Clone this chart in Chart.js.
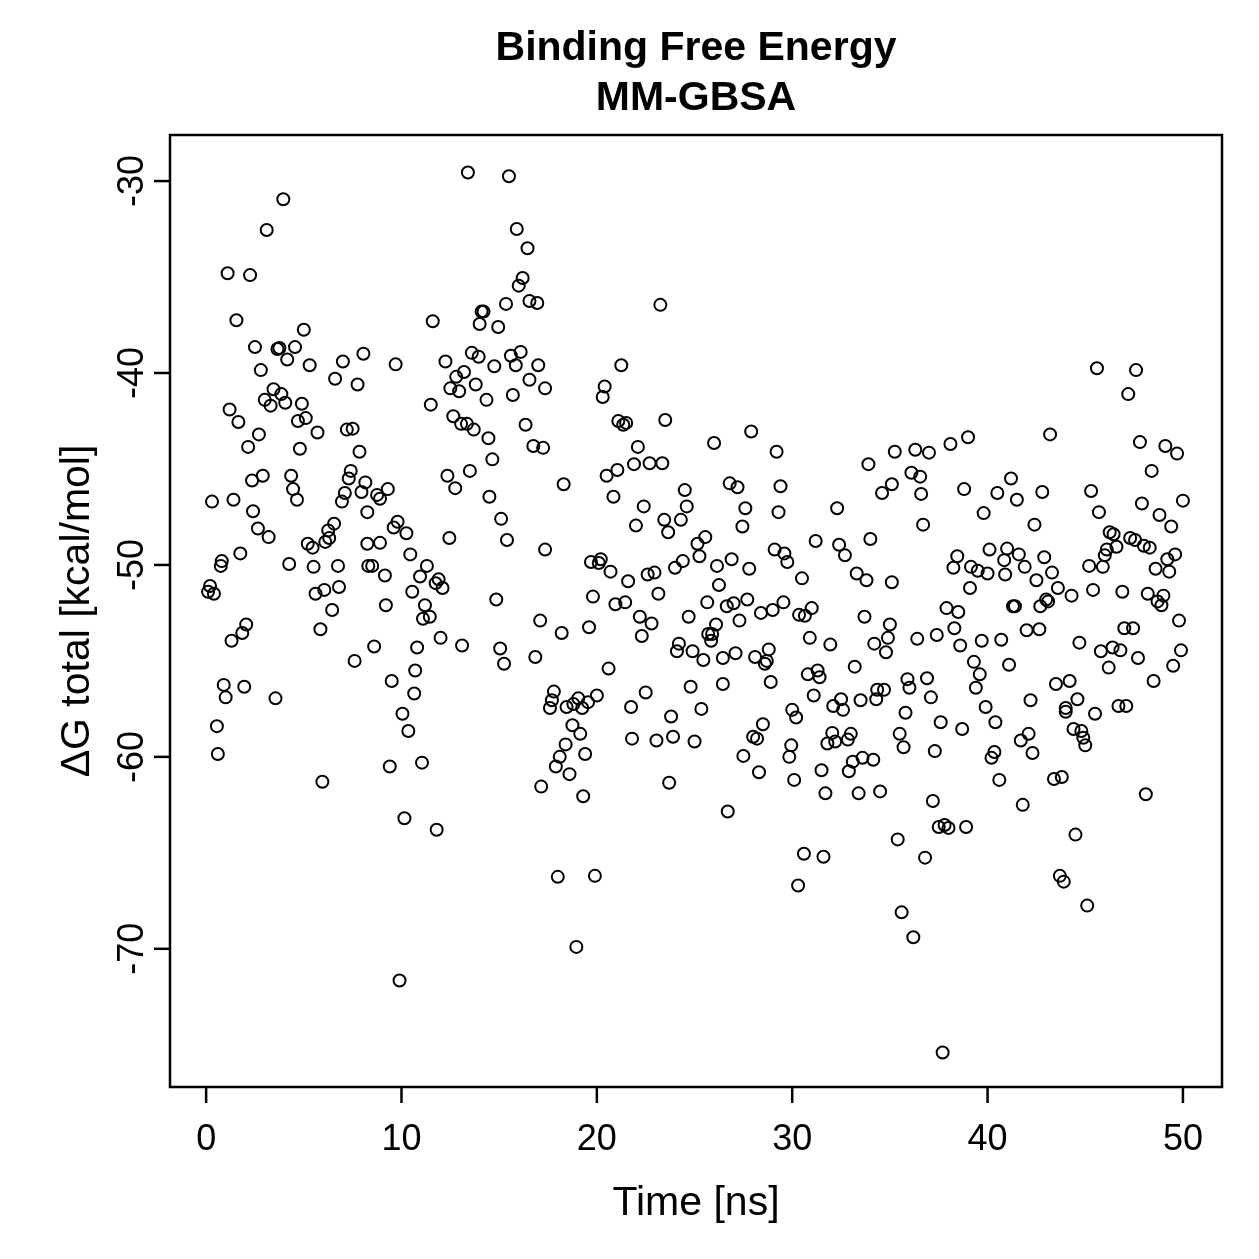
<!DOCTYPE html>
<html>
<head>
<meta charset="utf-8">
<script src="https://cdn.jsdelivr.net/npm/chart.js@4.4.1/dist/chart.umd.min.js"></script>
<style>
  body { margin: 0; background: #ffffff; }
  #chartDiv { width: 1259px; height: 1259px; }
</style>
</head>
<body>
<div id="chartDiv"><canvas id="mmgbsaChart" width="1259" height="1259"></canvas></div>
<script>

// ---------- DATA
var chartTitle = ['Binding Free Energy', 'MM-GBSA'];
var xTitle = 'Time [ns]';
var yTitle = '\u0394G total [kcal/mol]';
var xTicks = [0, 10, 20, 30, 40, 50];
var yTicks = [-30, -40, -50, -60, -70];

// time [ns]
var timeNs = [
  0.2, 0.1, 0.4, 0.3, 0.8, 0.75, 0.55, 0.6, 0.9, 1.0, 1.1, 1.2, 1.4, 1.3, 1.55, 1.65, 1.75, 1.85, 2.05, 1.95,
  2.15, 2.25, 2.35, 2.4, 2.5, 2.65, 2.7, 2.8, 2.9, 3.0, 3.1, 3.2, 3.3, 3.45, 3.55, 3.65, 3.75, 3.95, 3.85, 4.05,
  4.15, 4.25, 4.35, 4.45, 4.55, 4.65, 4.7, 4.8, 4.9, 5.0, 5.1, 5.2, 5.3, 5.45, 5.5, 5.6, 5.7, 5.85, 5.95, 6.05,
  6.1, 6.25, 6.3, 6.45, 6.55, 6.6, 6.75, 6.8, 6.95, 7.0, 7.1, 7.2, 7.3, 7.4, 7.5, 7.6, 7.75, 7.85, 7.95, 8.05,
  8.15, 8.25, 8.25, 8.3,

  9.7, 13.4, 15.5, 15.9, 16.45, 16.2, 16.0, 15.35, 16.55, 16.95, 14.1, 14.2, 14.0, 14.95, 11.6, 12.25, 13.6, 13.95, 14.75, 15.6,
  16.1, 15.85, 17.0, 13.2, 12.8, 12.5, 12.95, 13.8, 14.35, 16.55, 17.35, 15.7, 11.5, 12.65, 13.05, 13.35, 13.7, 14.45, 16.35, 16.75,
  17.25, 14.65, 13.5, 12.35, 12.75, 14.5, 15.1, 15.4, 17.35, 9.3, 8.75, 8.9, 8.9, 9.6, 9.8, 10.25, 10.45, 8.5, 9.15, 12.45,
  11.3, 10.95, 11.75, 11.9, 12.1, 10.55, 9.2, 11.2, 14.85, 11.1, 11.45, 12.0, 8.6, 10.8, 13.1, 15.05, 15.25, 16.85, 17.1, 10.7,
  9.5, 10.65, 10.05, 10.35, 9.4, 11.05, 17.15, 10.15, 11.8, 9.9,

  23.25, 21.25, 20.4, 20.3, 21.1, 21.35, 21.5, 23.5, 26.0, 22.1, 21.9, 22.7, 23.35, 21.05, 20.5, 18.3, 24.5, 24.6, 20.85, 22.4,
  23.45, 24.3, 22.0, 23.65, 25.55, 25.15, 25.25, 19.7, 20.2, 20.1, 20.7, 21.6, 22.6, 22.95, 24.0, 24.4, 26.15, 26.25, 19.8, 20.95,
  21.45, 23.15, 25.65, 18.2, 19.6, 22.2, 22.8, 22.3, 24.7, 26.1, 25.7, 25.9, 25.85, 24.2, 24.1, 24.9, 25.45, 20.6, 17.8, 24.8,
  17.7, 17.6, 18.45, 18.8, 19.05, 19.25, 19.55, 20.0, 22.5, 21.75, 25.35, 23.8, 18.75, 19.15, 18.4, 19.4, 21.8, 23.05, 23.9, 25.0,
  18.1, 17.9, 18.6, 19.3, 23.7, 18.0, 19.9, 18.95,

  27.9, 29.2, 33.9, 35.25, 26.8, 27.2, 29.4, 34.6, 35.1, 27.6, 29.3, 27.45, 32.3, 31.2, 34.0, 29.1, 29.6, 29.75, 32.4, 32.7,
  26.9, 27.8, 30.5, 33.3, 33.8, 35.1, 26.65, 27.0, 27.7, 28.4, 29.0, 29.55, 30.35, 30.65, 31.0, 33.7, 35.0, 34.9, 34.2, 34.8,
  27.3, 30.9, 31.95, 33.2, 26.45, 27.1, 28.1, 28.8, 28.7, 28.6, 26.45, 28.9, 30.8, 31.3, 31.4, 31.1, 30.0, 30.2, 32.1, 32.5,
  32.6, 33.5, 34.35, 34.7, 34.3, 28.5, 28.0, 28.2, 27.5, 29.95, 29.85, 32.05, 31.8, 32.2, 32.85, 33.0, 28.3, 30.1, 31.5, 33.1,
  33.6, 34.15, 32.9, 31.7, 33.4, 34.5, 26.7, 30.6, 31.6, 30.3,

  43.2, 39.0, 38.1, 36.3, 37.0, 36.1, 36.55, 36.6, 38.8, 41.2, 40.5, 41.5, 42.8, 39.8, 36.7, 42.4, 38.45, 38.25, 39.15, 39.5,
  40.0, 40.1, 41.0, 40.85, 41.6, 41.9, 40.9, 42.9, 43.3, 42.5, 43.6, 39.1, 37.9, 38.5, 41.3, 41.4, 42.7, 43.1, 43.0, 36.4,
  37.4, 38.3, 38.6, 39.7, 40.7, 42.0, 42.65, 39.3, 39.6, 39.4, 41.1, 35.9, 36.0, 36.9, 37.1, 39.9, 42.2, 43.5, 44.2, 44.0,
  44.0, 35.8, 37.6, 38.7, 40.4, 35.5, 35.7, 37.3, 40.35, 40.2, 42.1, 41.7, 42.3, 40.6, 43.4, 43.8, 37.2, 37.5, 37.8, 38.0,
  38.9, 41.8, 35.4, 36.8, 44.5, 43.7, 43.9, 35.6, 36.2, 37.7,

  45.6, 47.6, 47.2, 47.8, 49.1, 49.7, 48.4, 45.3, 45.7, 47.9, 50.0, 48.8, 49.4, 46.25, 46.45, 47.3, 47.55, 48.0, 48.3, 46.6,
  46.1, 46.0, 49.6, 49.2, 45.2, 45.9, 48.6, 49.3, 44.3, 45.4, 46.9, 48.2, 49.0, 48.7, 48.9, 49.8, 47.0, 47.45, 44.7, 45.8,
  46.4, 46.8, 47.7, 49.9, 46.2, 49.5, 48.5, 44.6, 45.5, 46.7, 47.1, 44.4, 44.8, 44.9, 45.0, 48.1, 45.1
];

// Delta G total [kcal/mol], same order as timeNs
var dGTotal = [
  -51.1, -51.4, -51.5, -46.7, -49.8, -50.05, -58.4, -59.85, -56.25, -56.9, -34.8, -41.9, -46.6, -53.95, -37.25, -42.55, -49.4, -53.55, -53.1, -56.35,
  -43.85, -34.9, -45.6, -47.2, -38.65, -48.1, -43.2, -39.85, -45.35, -41.4, -32.55, -48.55, -41.7, -40.85, -56.95, -38.75, -38.7, -30.95, -41.1, -41.55,
  -39.3, -49.95, -45.35, -46.05, -38.65, -46.6, -42.5, -43.95, -41.6, -37.75, -42.35, -48.9, -39.6, -49.1, -50.1, -51.5, -43.1, -53.35, -61.3, -51.3,
  -48.8, -48.2, -48.6, -52.35, -47.85, -40.3, -50.05, -51.15, -46.7, -39.4, -46.25, -42.95, -45.5, -45.1, -42.9, -55.0, -40.6, -44.1, -46.2, -39.0,
  -45.7, -47.25, -48.9, -50.05,

  -39.55, -29.55, -29.75, -32.5, -33.5, -35.05, -35.45, -36.4, -36.25, -36.35, -36.8, -36.8, -37.45, -37.6, -37.3, -39.4, -38.95, -39.15, -39.65, -39.1,
  -38.9, -39.6, -39.6, -39.95, -40.2, -40.8, -40.95, -40.6, -41.4, -40.35, -40.8, -41.15, -41.65, -42.25, -42.65, -42.65, -42.95, -43.4, -42.7, -43.8,
  -43.9, -44.5, -45.1, -45.35, -46.0, -46.45, -47.6, -48.7, -49.2, -46.05, -46.35, -46.55, -48.85, -48.05, -47.75, -48.35, -49.45, -50.05, -50.55, -48.6,
  -50.05, -50.6, -50.95, -50.75, -51.2, -51.4, -52.1, -52.1, -51.8, -52.8, -52.7, -53.8, -54.25, -54.3, -54.2, -54.35, -55.15, -54.8, -52.9, -55.5,
  -56.05, -56.7, -57.75, -58.65, -60.5, -60.3, -61.55, -63.2, -63.8, -71.65,

  -36.45, -39.6, -40.7, -41.25, -42.5, -42.7, -42.6, -42.45, -43.65, -43.85, -44.75, -44.7, -44.7, -45.05, -45.35, -45.8, -46.1, -46.95, -46.45, -46.95,
  -47.65, -47.65, -47.95, -48.3, -48.55, -48.9, -49.55, -49.85, -49.7, -49.9, -50.35, -50.85, -50.5, -50.4, -50.15, -49.8, -50.05, -51.05, -51.65, -52.05,
  -51.95, -51.5, -51.95, -53.55, -53.25, -52.7, -53.05, -53.7, -52.7, -53.1, -53.6, -53.6, -53.95, -54.1, -54.5, -54.5, -54.95, -55.4, -56.6, -56.35,
  -57.05, -57.45, -57.4, -57.25, -56.95, -57.45, -57.15, -56.8, -56.65, -57.4, -57.5, -57.9, -58.35, -58.8, -59.35, -59.85, -59.05, -59.15, -58.95, -59.2,
  -60.0, -60.5, -60.9, -62.05, -61.35, -66.25, -66.2, -69.9,

  -43.05, -44.1, -44.75, -44.1, -45.75, -45.95, -45.9, -46.25, -45.8, -47.05, -47.25, -48.0, -47.05, -48.75, -48.65, -49.2, -49.4, -49.85, -48.95, -49.5,
  -49.7, -50.2, -50.7, -50.45, -50.8, -50.9, -52.15, -52.0, -51.8, -52.5, -52.35, -51.95, -52.6, -52.65, -52.25, -52.7, -53.1, -53.8, -54.1, -54.55,
  -52.9, -53.8, -54.15, -55.3, -54.85, -54.6, -54.8, -54.4, -55.0, -55.15, -56.2, -56.1, -55.7, -55.5, -55.85, -56.8, -57.55, -57.95, -57.35, -57.0,
  -57.55, -57.05, -56.5, -56.5, -57.0, -58.3, -58.95, -59.05, -59.95, -59.4, -60.0, -58.75, -59.3, -59.2, -59.1, -58.8, -60.8, -61.2, -60.7, -60.25,
  -60.05, -60.15, -60.75, -61.9, -61.9, -61.8, -62.85, -65.05, -65.2, -66.7,

  -43.2, -43.35, -43.7, -44.0, -44.15, -45.2, -45.4, -46.3, -46.05, -45.5, -46.25, -46.6, -46.2, -47.3, -47.9, -47.9, -49.55, -50.15, -50.1, -50.3,
  -50.45, -49.2, -49.15, -49.75, -49.45, -50.1, -50.5, -49.6, -50.4, -50.8, -51.2, -51.2, -52.25, -52.45, -52.15, -52.15, -52.15, -51.9, -51.8, -53.85,
  -53.65, -53.3, -54.2, -53.95, -53.9, -53.4, -53.35, -55.05, -55.7, -56.4, -55.2, -55.95, -56.4, -55.9, -56.9, -57.4, -57.05, -56.2, -56.05, -57.45,
  -57.65, -57.7, -58.2, -58.55, -58.2, -58.8, -59.5, -59.7, -59.75, -60.05, -58.8, -59.15, -59.8, -61.2, -61.15, -61.05, -62.3, -63.65, -63.55, -63.7,
  -63.65, -62.5, -64.3, -65.25, -64.05, -66.2, -66.5, -68.1, -69.4, -75.4,

  -39.75, -39.85, -41.1, -43.6, -43.8, -44.2, -45.1, -46.15, -47.25, -46.8, -46.65, -47.4, -48.0, -48.3, -48.4, -48.6, -48.7, -49.0, -49.1, -49.05,
  -49.2, -49.5, -49.45, -49.7, -50.05, -50.1, -50.2, -50.35, -51.6, -51.3, -51.4, -51.5, -51.6, -51.9, -52.1, -52.9, -53.3, -53.3, -54.05, -54.5,
  -54.3, -54.45, -54.85, -54.45, -55.35, -55.25, -56.05, -57.0, -57.75, -57.35, -57.35, -58.55, -58.65, -59.0, -59.4, -61.95, -67.75
];

// ---------- CHART

var fontFamily = '"Liberation Sans", Arial, Helvetica, sans-serif';

function buildPoints(){
    var pts = [];
    for (var i = 0; i < timeNs.length; i++) {
        pts.push({ x: timeNs[i], y: dGTotal[i] });
    }
    return pts;
}

// R style frame, tick marks and labels drawn from the chart scales
var rAxesPlugin = {
    id: 'rAxes',
    afterDraw: function(chart){
        var ctx = chart.ctx;
        var area = chart.chartArea;
        var xs = chart.scales.x;
        var ys = chart.scales.y;
        var midX = (area.left + area.right) / 2;

        ctx.save();
        ctx.strokeStyle = '#000';
        ctx.fillStyle = '#000';
        ctx.lineWidth = 2.5;

        // box
        ctx.strokeRect(area.left, area.top, area.right - area.left, area.bottom - area.top);

        // x ticks
        ctx.font = '36px ' + fontFamily;
        ctx.textAlign = 'center';
        ctx.textBaseline = 'alphabetic';
        xTicks.forEach(function(v){
            var px = xs.getPixelForValue(v);
            ctx.beginPath();
            ctx.moveTo(px, area.bottom);
            ctx.lineTo(px, area.bottom + 16);
            ctx.stroke();
            ctx.fillText(String(v), px, area.bottom + 63);
        });

        // y ticks (rotated like R default)
        yTicks.forEach(function(v){
            var py = ys.getPixelForValue(v);
            ctx.beginPath();
            ctx.moveTo(area.left, py);
            ctx.lineTo(area.left - 16, py);
            ctx.stroke();
            ctx.save();
            ctx.translate(area.left - 27, py);
            ctx.rotate(-Math.PI / 2);
            ctx.fillText(String(v), 0, 0);
            ctx.restore();
        });

        // axis titles
        ctx.font = '41px ' + fontFamily;
        ctx.fillText(xTitle, midX, 1215);
        ctx.save();
        ctx.translate(89, (area.top + area.bottom) / 2);
        ctx.rotate(-Math.PI / 2);
        ctx.fillText(yTitle, 0, 0);
        ctx.restore();

        // main title
        ctx.font = 'bold 41px ' + fontFamily;
        ctx.fillText(chartTitle[0], midX, 60);
        ctx.fillText(chartTitle[1], midX, 110);

        ctx.restore();
    }
};

function initializeChart(){
    var ctx = document.getElementById('mmgbsaChart').getContext('2d');
    var myChart = new Chart(ctx, {
        type: 'scatter',
        data: {
            datasets: [{
                data: buildPoints(),
                pointStyle: 'circle',
                pointRadius: 6,
                pointHoverRadius: 6,
                borderColor: '#000000',
                backgroundColor: 'rgba(0,0,0,0)',
                borderWidth: 2
            }]
        },
        options: {
            responsive: false,
            devicePixelRatio: 1,
            animation: false,
            layout: {
                padding: { left: 170, right: 37, top: 135, bottom: 172 }
            },
            plugins: {
                legend: { display: false },
                tooltip: { enabled: false },
                title: { display: false }
            },
            scales: {
                x: { type: 'linear', min: -1.85, max: 52.0, display: false },
                y: { type: 'linear', min: -77.2, max: -27.6, display: false }
            }
        },
        plugins: [rAxesPlugin]
    });
}

initializeChart();

</script>
</body>
</html>
